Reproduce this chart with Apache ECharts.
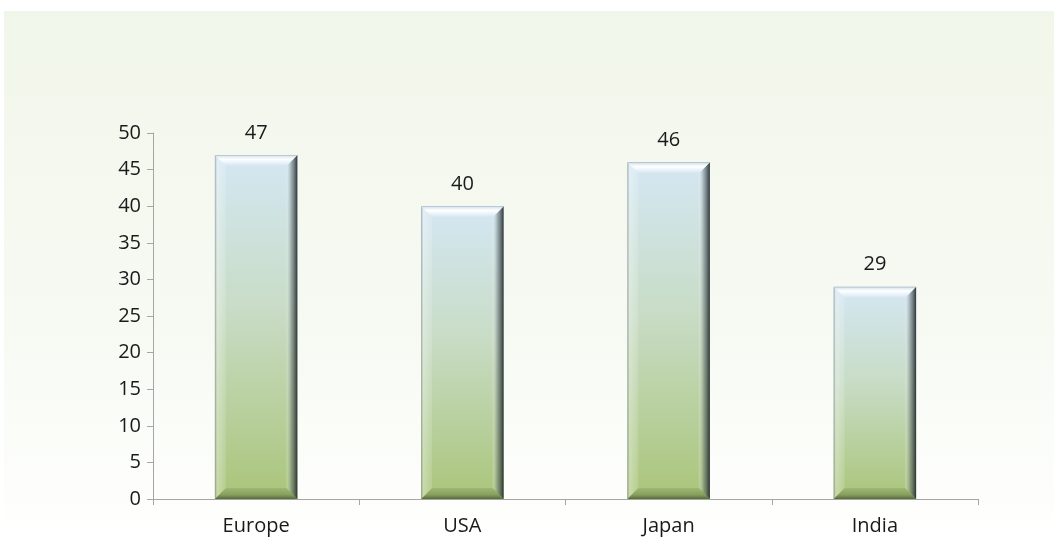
<!DOCTYPE html>
<html>
<head>
<meta charset="utf-8">
<script src="https://cdn.jsdelivr.net/npm/echarts@6/dist/echarts.min.js"></script>
<style>html,body{margin:0;padding:0;background:#fff;}#c{width:1054px;height:541px;}</style>
</head>
<body>
<div id="c"></div>
<script>
const categories = ['Europe', 'USA', 'Japan', 'India'];
const values = [47, 40, 46, 29];
const yTicks = { min: 0, max: 50, interval: 5 };

const chart = echarts.init(document.getElementById('c'), null, { renderer: 'canvas' });
const FONT = '"Open Sans", "Noto Sans", sans-serif';
const BEVEL = 11;

function lin(x, y, x2, y2, stops) {
  return new echarts.graphic.LinearGradient(x, y, x2, y2, stops);
}

function renderBevel(params, api) {
  const idx = api.value(0);
  const v = api.value(1);
  const top = api.coord([idx, v]);
  const bot = api.coord([idx, 0]);
  const band = api.size([1, 0])[0];
  const w = band * 0.4;
  const x0 = top[0] - w / 2, x1 = top[0] + w / 2;
  const y0 = top[1], y1 = bot[1];
  const b = Math.min(BEVEL, (y1 - y0) / 2);
  return {
    type: 'group',
    children: [
      {
        type: 'polygon',
        shape: { points: [[x0, y0], [x0 + b, y0 + b], [x0 + b, y1 - b], [x0, y1]] },
        style: { fill: lin(0, 0, 1, 0, [
          { offset: 0, color: 'rgba(90,100,105,0.5)' },
          { offset: 0.2, color: 'rgba(255,255,255,0.35)' },
          { offset: 1, color: 'rgba(255,255,255,0.12)' }
        ]) }
      },
      {
        type: 'polygon',
        shape: { points: [[x1, y0], [x1, y1], [x1 - b, y1 - b], [x1 - b, y0 + b]] },
        style: { fill: lin(0, 0, 1, 0, [
          { offset: 0, color: 'rgba(255,255,255,0.2)' },
          { offset: 0.45, color: 'rgba(90,100,105,0.45)' },
          { offset: 1, color: 'rgba(30,38,40,0.92)' }
        ]) }
      },
      {
        type: 'polygon',
        shape: { points: [[x0, y1], [x0 + b, y1 - b], [x1 - b, y1 - b], [x1, y1]] },
        style: { fill: lin(0, 0, 0, 1, [
          { offset: 0, color: 'rgba(60,80,30,0.12)' },
          { offset: 0.6, color: 'rgba(60,80,30,0.32)' },
          { offset: 1, color: 'rgba(40,55,25,0.65)' }
        ]) }
      },
      {
        type: 'polygon',
        shape: { points: [[x0, y0], [x1, y0], [x1 - b, y0 + b], [x0 + b, y0 + b]] },
        style: { fill: lin(0, 0, 0, 1, [
          { offset: 0, color: '#9fb2be' },
          { offset: 0.12, color: '#dfeaf2' },
          { offset: 0.4, color: '#ffffff' },
          { offset: 1, color: '#d3e6f2' }
        ]) }
      }
    ]
  };
}

chart.setOption({
  animation: false,
  backgroundColor: '#ffffff',
  graphic: [{
    type: 'rect',
    z: -10,
    silent: true,
    shape: { x: 4, y: 11, width: 1050, height: 530 },
    style: { fill: lin(0, 0, 0, 1, [
      { offset: 0, color: '#f1f6ea' },
      { offset: 0.6, color: '#f7faf3' },
      { offset: 0.92, color: '#fdfefc' },
      { offset: 1, color: '#ffffff' }
    ]) }
  }],
  grid: { left: 153, right: 76, top: 133, bottom: 42, containLabel: false },
  xAxis: {
    type: 'category',
    data: categories,
    boundaryGap: true,
    axisLine: { lineStyle: { color: '#a6a6a6', width: 1 } },
    axisTick: { show: true, length: 6, alignWithLabel: false, lineStyle: { color: '#a6a6a6' } },
    axisLabel: { color: '#1a1a1a', fontSize: 20, fontFamily: FONT, margin: 17 }
  },
  yAxis: {
    type: 'value',
    min: yTicks.min, max: yTicks.max, interval: yTicks.interval,
    axisLine: { show: true, lineStyle: { color: '#a6a6a6', width: 1 } },
    axisTick: { show: true, length: 6, lineStyle: { color: '#a6a6a6' } },
    splitLine: { show: false },
    axisLabel: { color: '#1a1a1a', fontSize: 20, fontFamily: FONT, margin: 12 }
  },
  series: [
    {
      type: 'bar',
      data: values,
      barWidth: '40%',
      itemStyle: {
        color: lin(0, 0, 0, 1, [
          { offset: 0, color: '#d4e7f3' },
          { offset: 0.45, color: '#c8dcc6' },
          { offset: 1, color: '#aac57a' }
        ])
      },
      label: {
        show: true, position: 'top', distance: 12,
        color: '#1a1a1a', fontSize: 20, fontFamily: FONT
      },
      z: 2
    },
    {
      type: 'custom',
      silent: true,
      renderItem: renderBevel,
      data: values.map((v, i) => [i, v]),
      z: 3
    }
  ]
});
</script>
</body>
</html>
